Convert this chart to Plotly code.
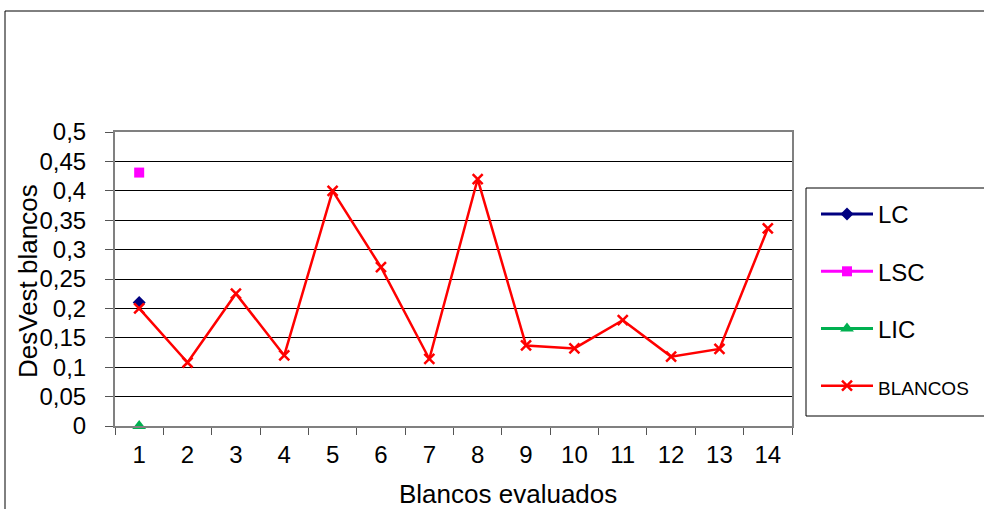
import plotly.graph_objects as go

# Blank samples evaluated and their standard deviations
blancos_x = ["1", "2", "3", "4", "5", "6", "7", "8", "9", "10", "11", "12", "13", "14"]
blancos_y = [0.200, 0.108, 0.225, 0.120, 0.400, 0.270, 0.114, 0.420,
             0.137, 0.132, 0.180, 0.118, 0.131, 0.336]

# Control limits (central, upper, lower) plotted at the first blank
lc_x, lc_y = ["1"], [0.21]
lsc_x, lsc_y = ["1"], [0.431]
lic_x, lic_y = ["1"], [0.0]

y_ticks = [0, 0.05, 0.1, 0.15, 0.2, 0.25, 0.3, 0.35, 0.4, 0.45, 0.5]
y_tick_text = ["0", "0,05", "0,1", "0,15", "0,2", "0,25", "0,3", "0,35", "0,4", "0,45", "0,5"]

FONT = "Arial, Liberation Sans, sans-serif"
W, H = 984, 509

fig = go.Figure()

fig.add_trace(go.Scatter(
    x=lc_x, y=lc_y, name="LC", mode="lines+markers", legendgroup="a",
    line=dict(color="#000080", width=3),
    marker=dict(symbol="diamond", size=10, color="#000080"),
))
fig.add_trace(go.Scatter(
    x=lsc_x, y=lsc_y, name="LSC", mode="lines+markers", legendgroup="b",
    line=dict(color="#FF00FF", width=3),
    marker=dict(symbol="square", size=10, color="#FF00FF"),
))
fig.add_trace(go.Scatter(
    x=lic_x, y=lic_y, name="LIC", mode="lines+markers", legendgroup="c",
    line=dict(color="#00B050", width=3),
    marker=dict(symbol="triangle-up", size=12, color="#00B050"),
    cliponaxis=False,
))
fig.add_trace(go.Scatter(
    x=blancos_x, y=blancos_y, name='<span style="font-size:19px">BLANCOS</span>',
    mode="lines+markers", legendgroup="d",
    line=dict(color="#FF0000", width=2.5),
    marker=dict(symbol="x-thin", size=10, color="#FF0000",
                line=dict(color="#FF0000", width=2.5)),
))

fig.update_layout(
    width=W, height=H,
    margin=dict(l=0, r=0, t=0, b=0, pad=0, autoexpand=False),
    paper_bgcolor="white",
    plot_bgcolor="white",
    font=dict(family=FONT, size=24, color="black"),
    showlegend=True,
    legend=dict(
        x=816 / W, y=1 - 192 / H, xanchor="left", yanchor="top",
        bgcolor="rgba(0,0,0,0)", borderwidth=0,
        font=dict(family=FONT, size=24, color="black"),
        traceorder="grouped", tracegroupgap=23,
        itemwidth=52,
    ),
    xaxis=dict(
        domain=[115 / W, 792 / W],
        type="category",
        categoryorder="array", categoryarray=blancos_x,
        range=[-0.5, len(blancos_x) - 0.5],
        autorange=False,
        tickson="boundaries",
        ticks="outside", ticklen=7, tickwidth=1, tickcolor="#555555",
        showline=True, linecolor="#808080", linewidth=2, mirror=True,
        showgrid=False, zeroline=False,
        tickfont=dict(size=24),
        ticklabelstandoff=6,
        automargin=False,
    ),
    yaxis=dict(
        domain=[(H - 426) / H, (H - 132) / H],
        range=[0, 0.5],
        autorange=False,
        tickvals=y_ticks, ticktext=y_tick_text,
        ticks="outside", ticklen=8, tickwidth=1, tickcolor="#555555",
        showline=True, linecolor="#808080", linewidth=2, mirror=True,
        showgrid=True, gridcolor="#000000", gridwidth=1,
        zeroline=False,
        tickfont=dict(size=24),
        ticklabelstandoff=14,
        automargin=False,
    ),
)

# Outer chart frame and legend box
fig.add_shape(type="rect", xref="paper", yref="paper",
              x0=5 / W, x1=1.02, y0=-0.05, y1=1 - 11 / H,
              line=dict(color="black", width=1), layer="below")
fig.add_shape(type="rect", xref="paper", yref="paper",
              x0=806 / W, x1=1.02, y0=1 - 416 / H, y1=1 - 188 / H,
              line=dict(color="black", width=1), layer="below")

# Axis titles
fig.add_annotation(text="Blancos evaluados", xref="paper", yref="paper",
                   x=508 / W, y=1 - 494 / H, xanchor="center", yanchor="middle",
                   showarrow=False, font=dict(size=26))
fig.add_annotation(text="DesVest blancos", xref="paper", yref="paper",
                   x=28 / W, y=1 - 281 / H, xanchor="center", yanchor="middle",
                   textangle=-90, showarrow=False, font=dict(size=26))

fig.write_html("out.html")
